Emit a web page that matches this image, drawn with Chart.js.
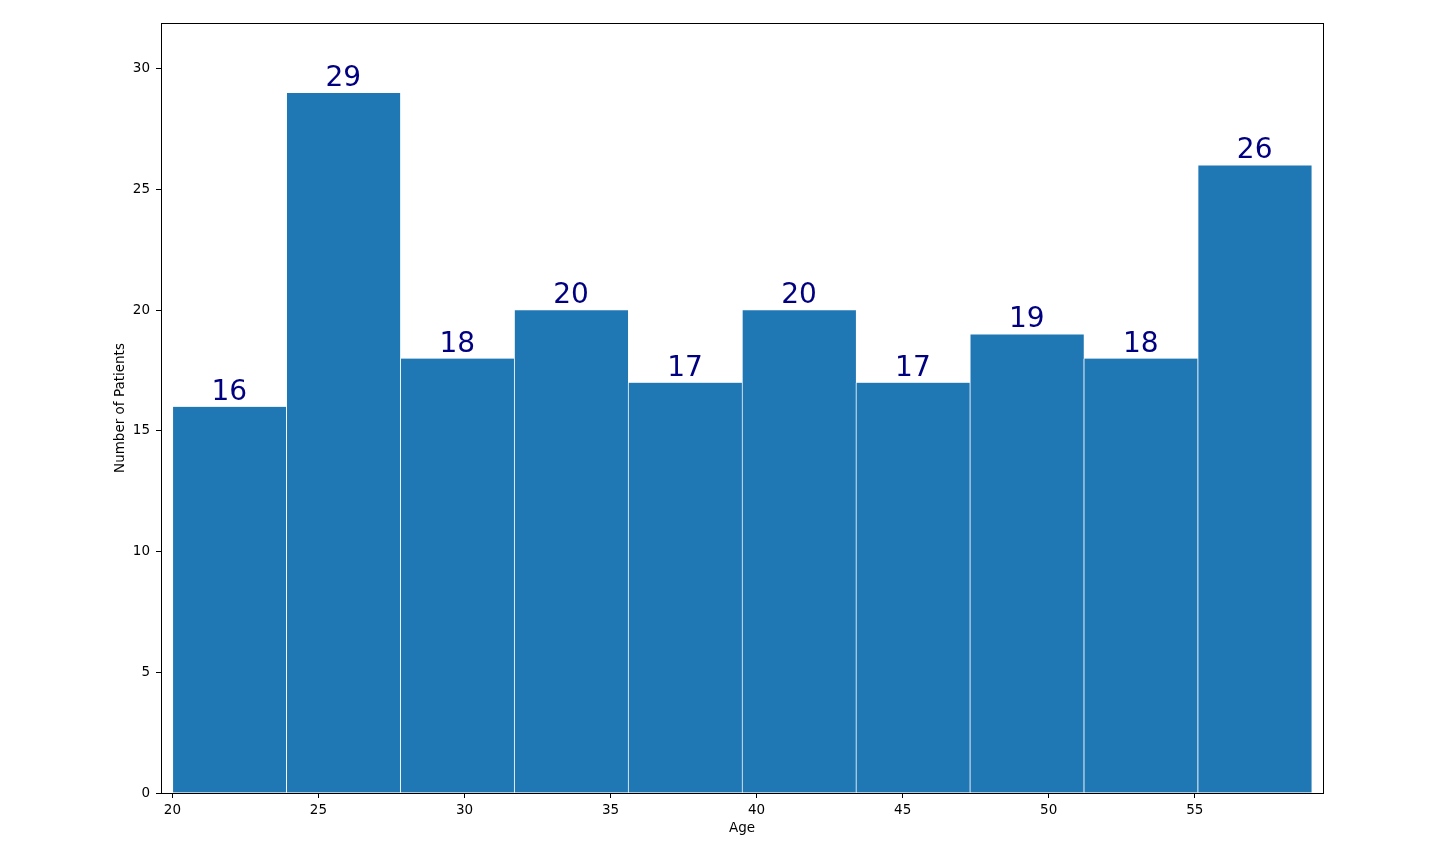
<!DOCTYPE html>
<html>
<head>
<meta charset="utf-8">
<script src="https://cdn.jsdelivr.net/npm/chart.js@4/dist/chart.umd.min.js"></script>
<style>
  html, body { margin: 0; padding: 0; background: #fff; }
  #wrap { width: 1442px; height: 852px; }
</style>
</head>
<body>
<div id="wrap"><canvas id="ageChart" width="1442" height="852"></canvas></div>
<script>
// histogram bins: 10 bins from 20 to 59, width 3.9
const binStart = 20;
const binWidth = 3.9;
const counts = [16, 29, 18, 20, 17, 20, 17, 19, 18, 26];
const xTicks = [20, 25, 30, 35, 40, 45, 50, 55];
const yTicks = [0, 5, 10, 15, 20, 25, 30];

const points = counts.map((c, i) => ({ x: binStart + binWidth * (i + 0.5), y: c }));

const tickFont = { family: "DejaVu Sans", size: 13.5 };

const decorations = {
    id: "decorations",
    afterDatasetsDraw(chart) {
        const ctx = chart.ctx;
        const area = chart.chartArea;
        ctx.save();
        // frame
        ctx.strokeStyle = "#000";
        ctx.lineWidth = 1;
        ctx.strokeRect(Math.round(area.left) + 0.5, Math.round(area.top) + 0.5,
            Math.round(area.right - area.left), Math.round(area.bottom - area.top));

        // value labels
        ctx.fillStyle = "#000080";
        ctx.font = "28px 'DejaVu Sans'";
        ctx.textAlign = "center";
        ctx.textBaseline = "alphabetic";
        chart.getDatasetMeta(0).data.forEach((bar, i) => {
            ctx.fillText(String(counts[i]), bar.x, bar.y - 7);
        });

        // axis titles
        ctx.fillStyle = "#000";
        ctx.font = "13.5px 'DejaVu Sans'";
        ctx.textBaseline = "middle";
        ctx.fillText("Age", (area.left + area.right) / 2, 828);
        ctx.translate(120, (area.top + area.bottom) / 2);
        ctx.rotate(-Math.PI / 2);
        ctx.fillText("Number of Patients", 0, 0);
        ctx.restore();
    }
};

new Chart(document.getElementById("ageChart"), {
    type: "bar",
    data: {
        datasets: [{
            data: points,
            backgroundColor: "#1f77b4",
            borderColor: "#ffffff",
            borderWidth: { left: 1, right: 0, top: 0, bottom: 0 },
            borderSkipped: false,
            barPercentage: 1,
            categoryPercentage: 1
        }]
    },
    options: {
        responsive: false,
        animation: false,
        layout: { padding: { left: 0, right: 119, top: 23, bottom: 0 } },
        plugins: { legend: { display: false }, tooltip: { enabled: false } },
        scales: {
            x: {
                type: "linear",
                offset: false,
                min: 19.61,
                max: 59.39,
                afterBuildTicks: axis => { axis.ticks = xTicks.map(v => ({ value: v })); },
                afterFit: axis => { axis.height = 59; },
                grid: { offset: false, drawOnChartArea: false, tickColor: "#000", tickLength: 5 },
                border: { display: false },
                ticks: { color: "#000", font: tickFont, padding: 4, maxRotation: 0 }
            },
            y: {
                type: "linear",
                min: 0,
                max: 31.9,
                afterBuildTicks: axis => { axis.ticks = yTicks.map(v => ({ value: v })); },
                afterFit: axis => { axis.width = 161; },
                grid: { drawOnChartArea: false, tickColor: "#000", tickLength: 5 },
                border: { display: false },
                ticks: { color: "#000", font: tickFont, padding: 6 }
            }
        }
    },
    plugins: [decorations]
});
</script>
</body>
</html>
